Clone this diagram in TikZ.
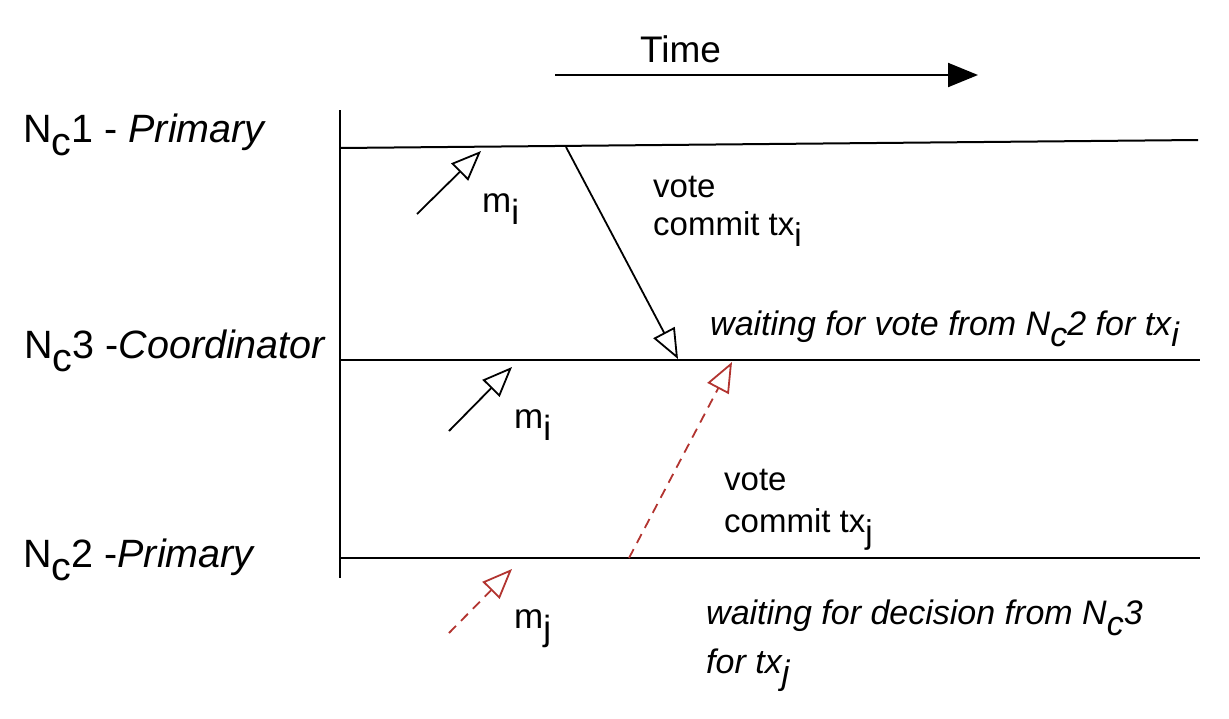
\documentclass[tikz,border=0pt]{standalone}
\usepackage{fontspec}
\setmainfont{Liberation Sans}
\usetikzlibrary{arrows.meta}
\definecolor{darkred}{RGB}{178,52,48}
\newcommand\lowr[1]{\raisebox{-0.35em}{#1}}
\tikzset{
  life/.style={line width=2pt},
  msg/.style={line width=1.8pt,-{Triangle[open,length=30pt,width=24pt,line width=1.8pt]}},
  redmsg/.style={msg,draw=darkred,dash pattern=on 10pt off 7pt},
  biglbl/.style={anchor=base west,inner sep=0pt,font=\fontsize{39.5}{44}\selectfont},
  lbl/.style={anchor=base west,inner sep=0pt,font=\fontsize{33}{38}\selectfont},
  ilbl/.style={anchor=base west,inner sep=0pt,font=\fontsize{34}{38}\selectfont\itshape},
  mlbl/.style={anchor=base west,inner sep=0pt,font=\fontsize{35}{40}\selectfont},
}
\begin{document}
\begin{tikzpicture}[x=1pt,y=-1pt]
\useasboundingbox (0,0) rectangle (1229,718);
% lifelines
\coordinate (vtop) at (340,110);
\coordinate (vbot) at (340,578);
\coordinate (l1a) at (340,148);
\coordinate (l1b) at (1198,140);
\coordinate (l3a) at (340,360);
\coordinate (l3b) at (1200,360);
\coordinate (l2a) at (340,558);
\coordinate (l2b) at (1200,558);
\draw[life] (vtop) -- (vbot);
\draw[life] (l1a) -- (l1b);
\draw[life] (l3a) -- (l3b);
\draw[life] (l2a) -- (l2b);
% time arrow
\coordinate (t0) at (555,75);
\coordinate (t1) at (978,75);
\draw[line width=2pt,-{Triangle[length=30pt,width=24pt]}] (t0) -- (t1);
\node[biglbl,font=\fontsize{37}{44}\selectfont] (time) at (640,62) {Time};
% labels
\node[biglbl] (n1) at (23,142) {N\lowr{c}1 - \textit{Primary}};
\node[biglbl] (n3) at (24,358) {N\lowr{c}3 -\textit{Coordinator}};
\node[biglbl] (n2) at (23,567) {N\lowr{c}2 -\textit{Primary}};
% incoming messages
\coordinate (a1s) at (417,214);
\coordinate (a1e) at (481,151);
\draw[msg] (a1s) -- (a1e);
\node[mlbl] (mi1) at (482,212) {m\lowr{i}};
\coordinate (a2s) at (449,431);
\coordinate (a2e) at (512,367);
\draw[msg] (a2s) -- (a2e);
\node[mlbl] (mi2) at (514,428) {m\lowr{i}};
\coordinate (a3s) at (449,633);
\coordinate (a3e) at (512,569);
\draw[redmsg] (a3s) -- (a3e);
\node[mlbl] (mj) at (514,628) {m\lowr{j}};
% vote messages
\coordinate (v1s) at (566,147);
\coordinate (v1e) at (678,359);
\draw[msg] (v1s) -- (v1e);
\node[lbl] (vote1) at (653,197) {vote};
\node[lbl] (com1) at (653,235) {commit tx\lowr{i}};
\coordinate (v2s) at (629,558);
\coordinate (v2e) at (732,362);
\draw[redmsg] (v2s) -- (v2e);
\node[lbl] (vote2) at (724,490) {vote};
\node[lbl] (com2) at (724,532) {commit tx\lowr{j}};
% waiting notes
\node[ilbl] (w1) at (710,335) {waiting for vote from N\lowr{c}2 for tx\lowr{i}};
\node[ilbl] (w2) at (706,624) {waiting for decision from N\lowr{c}3};
\node[ilbl] (w3) at (706,673) {for tx\lowr{j}};
\end{tikzpicture}
\end{document}
